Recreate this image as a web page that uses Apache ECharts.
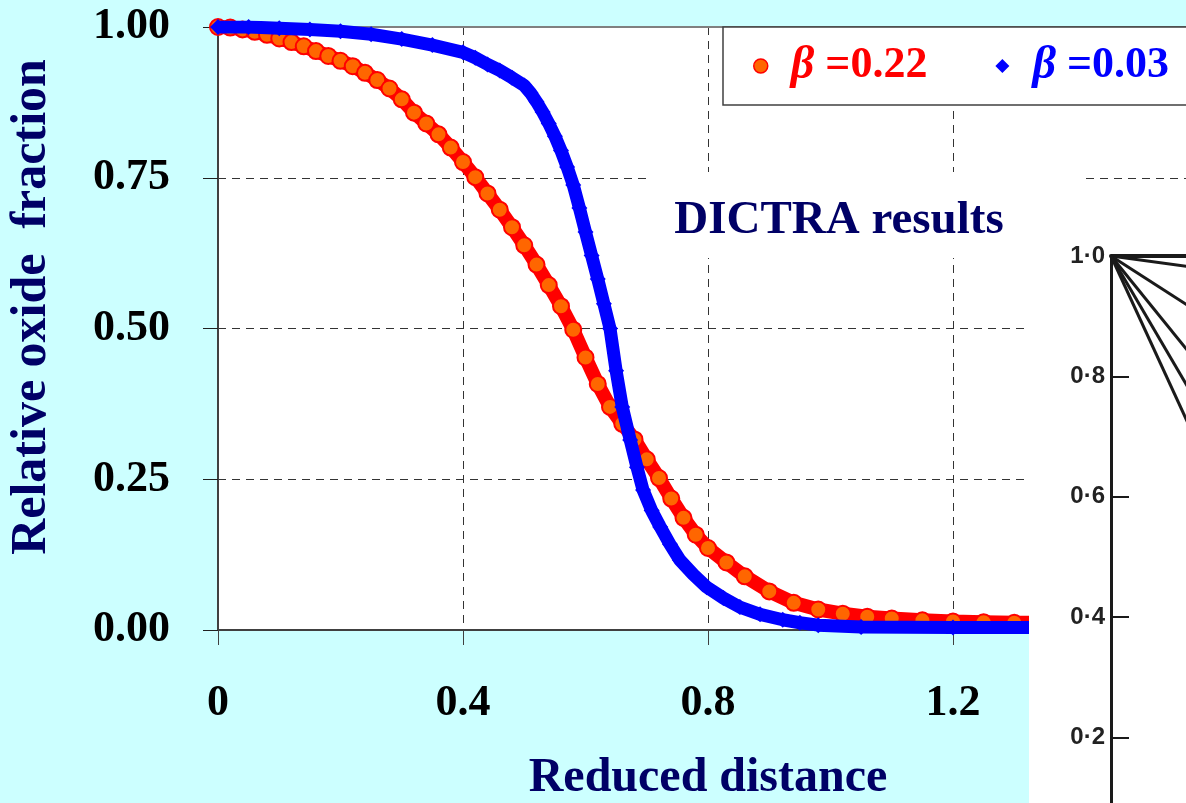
<!DOCTYPE html>
<html>
<head>
<meta charset="utf-8">
<script src="https://cdn.jsdelivr.net/npm/echarts@6/dist/echarts.min.js"></script>
<style>
html,body{margin:0;padding:0;background:#ccffff;}
#chart{width:1186px;height:803px;}
</style>
</head>
<body>
<div id="chart"></div>
<script>
// ---- Data ----
const xTickLabels = ['0', '0.4', '0.8', '1.2', '1.6'];
const yTickLabels = ['0.00', '0.25', '0.50', '0.75', '1.00'];

const redName = 'β =0.22';
const blueName = 'β =0.03';

const redX = [0.00,0.02,0.04,0.06,0.08,0.10,0.12,0.14,0.16,0.18,0.20,0.22,0.24,0.26,0.28,0.30,0.32,0.34,0.36,0.38,0.40,0.42,0.44,0.46,0.48,0.50,0.52,0.54,0.56,0.58,0.60,0.62,0.64,0.66,0.68,0.70,0.72,0.74,0.76,0.78,0.80,0.83,0.86,0.90,0.94,0.98,1.02,1.06,1.10,1.15,1.20,1.25,1.30,1.35,1.40,1.50,1.60];
const redY = [1.000,0.999,0.996,0.992,0.987,0.981,0.975,0.968,0.960,0.952,0.944,0.935,0.924,0.912,0.898,0.880,0.858,0.840,0.822,0.800,0.776,0.751,0.724,0.697,0.668,0.638,0.606,0.572,0.537,0.498,0.452,0.408,0.370,0.342,0.316,0.283,0.252,0.218,0.186,0.158,0.136,0.112,0.089,0.064,0.045,0.034,0.027,0.022,0.019,0.016,0.014,0.013,0.012,0.012,0.012,0.012,0.012];

const blueX = [0.00,0.05,0.10,0.15,0.20,0.25,0.30,0.35,0.40,0.42,0.44,0.46,0.48,0.50,0.51,0.52,0.53,0.54,0.55,0.56,0.57,0.58,0.59,0.60,0.61,0.62,0.63,0.64,0.65,0.66,0.673,0.684,0.694,0.708,0.722,0.738,0.754,0.776,0.798,0.825,0.852,0.885,0.922,0.95,0.98,1.05,1.20,1.40,1.60];
const blueY = [1.000,1.000,0.998,0.996,0.993,0.988,0.980,0.970,0.958,0.949,0.938,0.928,0.916,0.903,0.891,0.876,0.859,0.840,0.819,0.795,0.768,0.738,0.700,0.660,0.621,0.582,0.541,0.500,0.430,0.370,0.315,0.270,0.232,0.198,0.171,0.142,0.116,0.092,0.071,0.053,0.038,0.026,0.017,0.012,0.008,0.005,0.004,0.004,0.004];

// inset (scanned figure) y-axis labels and its radiating curves
const insetTickLabels = ['', '0·2', '0·4', '0·6', '0·8', '1·0'];
const insetX = [0, 0.14];
const insetCurveA = [1, 0.981];
const insetCurveB = [1, 0.910];
const insetCurveC = [1, 0.827];
const insetCurveD = [1, 0.761];
const insetCurveE = [1, 0.696];

// ---- Build ----
const zip = (xs, ys) => xs.map((x, i) => [x, ys[i]]);
const SERIF = 'Liberation Serif';
const NAVY = '#000066';

const chart = echarts.init(document.getElementById('chart'), null, {renderer: 'canvas'});

const insetSeries = [insetCurveA, insetCurveB, insetCurveC, insetCurveD, insetCurveE].map(ys => ({
  type: 'line', xAxisIndex: 2, yAxisIndex: 1, data: zip(insetX, ys),
  symbol: 'none', silent: true, z: 60,
  lineStyle: {color: '#1a1a1a', width: 3}
}));

const option = {
  backgroundColor: '#ccffff',
  animation: false,
  grid: [
    {left: 218, top: 27, width: 980, height: 603, outerBoundsMode: 'none', containLabel: false,
      show: true, backgroundColor: '#ffffff', borderColor: '#808080', borderWidth: 1},
    {left: 1111, top: 256, width: 602, height: 602, outerBoundsMode: 'none', containLabel: false}
  ],
  xAxis: [
    {
      type: 'value', gridIndex: 0, min: 0, max: 1.6, interval: 0.4,
      axisLine: {show: true, onZero: false, lineStyle: {color: '#404040', width: 2}},
      axisTick: {show: true, inside: false, length: 15, lineStyle: {color: '#404040', width: 1}},
      axisLabel: {
        margin: 52, color: '#000', fontFamily: SERIF, fontWeight: 'bold', fontSize: 44,
        formatter: v => xTickLabels[Math.round(v / 0.4)]
      },
      splitLine: {show: true, lineStyle: {color: '#333', width: 1, type: [8, 6]}},
      name: 'Reduced distance', nameLocation: 'middle', nameGap: 125,
      nameTextStyle: {color: NAVY, fontFamily: SERIF, fontWeight: 'bold', fontSize: 48}
    },
    {
      type: 'value', gridIndex: 0, position: 'top', min: 0, max: 1.6,
      axisLine: {show: true, onZero: false, lineStyle: {color: '#808080', width: 2}},
      axisTick: {show: false}, axisLabel: {show: false}, splitLine: {show: false}
    },
    {
      type: 'value', gridIndex: 1, position: 'top', min: 0, max: 1, z: 60,
      axisLine: {show: true, onZero: false, lineStyle: {color: '#1a1a1a', width: 4}},
      axisTick: {show: false}, axisLabel: {show: false}, splitLine: {show: false}
    }
  ],
  yAxis: [
    {
      type: 'value', gridIndex: 0, min: 0, max: 1, interval: 0.25,
      axisLine: {show: true, onZero: false, lineStyle: {color: '#404040', width: 2}},
      axisTick: {show: true, inside: false, length: 15, lineStyle: {color: '#202020', width: 1}},
      axisLabel: {
        margin: 48, color: '#000', fontFamily: SERIF, fontWeight: 'bold', fontSize: 44,
        formatter: v => yTickLabels[Math.round(v / 0.25)]
      },
      splitLine: {show: true, lineStyle: {color: '#333', width: 1, type: [8, 6]}}
    },
    {
      type: 'value', gridIndex: 1, min: 0, max: 1, interval: 0.2, z: 60,
      axisLine: {show: true, onZero: false, lineStyle: {color: '#1a1a1a', width: 3}},
      axisTick: {show: true, inside: true, length: 18, lineStyle: {color: '#1a1a1a', width: 2}},
      axisLabel: {
        margin: 6, color: '#222', fontFamily: 'Liberation Sans', fontWeight: 'bold', fontSize: 24,
        formatter: v => insetTickLabels[Math.round(v / 0.2)]
      },
      splitLine: {show: false}
    }
  ],
  legend: {
    left: 723, top: 27, width: 560,
    orient: 'horizontal',
    backgroundColor: '#ffffff', borderColor: '#404040', borderWidth: 1.5, borderRadius: 0,
    padding: [16, 60, 16, 30],
    itemGap: 68, itemWidth: 14, itemHeight: 14,
    data: [
      {name: redName, icon: 'circle', itemStyle: {color: '#ff6600', borderColor: '#ff0000', borderWidth: 1.5}},
      {name: blueName, icon: 'diamond', itemStyle: {color: '#0000ff', borderWidth: 0}}
    ],
    formatter: name => name === redName ? '{ra|β}{rb| =0.22}' : '{ba|β}{bb| =0.03}',
    textStyle: {
      fontFamily: SERIF, fontWeight: 'bold', fontSize: 44,
      rich: {
        ra: {color: '#ff0000', fontFamily: SERIF, fontStyle: 'italic', fontWeight: 'bold', fontSize: 46, padding: [0, 0, 0, 18]},
        rb: {color: '#ff0000', fontFamily: SERIF, fontWeight: 'bold', fontSize: 44},
        ba: {color: '#0000ff', fontFamily: SERIF, fontStyle: 'italic', fontWeight: 'bold', fontSize: 46, padding: [0, 0, 0, 18]},
        bb: {color: '#0000ff', fontFamily: SERIF, fontWeight: 'bold', fontSize: 44}
      }
    }
  },
  graphic: [
    {type: 'rect', z: 3, silent: true, shape: {x: 652, y: 172, width: 433, height: 86}, style: {fill: '#ffffff'}},
    {type: 'text', z: 4, silent: true, x: 839, y: 221,
      style: {text: 'DICTRA results', fill: NAVY, font: 'bold 47px "Liberation Serif"', textAlign: 'center', textVerticalAlign: 'middle'}},
    {type: 'text', z: 4, silent: true, x: 32, y: 307, rotation: Math.PI / 2,
      style: {text: 'Relative oxide  fraction', fill: NAVY, font: 'bold 50px "Liberation Serif"', textAlign: 'center', textVerticalAlign: 'middle'}},
    {type: 'rect', z: 50, silent: true, shape: {x: 1029, y: 232, width: 160, height: 575}, style: {fill: '#ffffff'}}
  ],
  series: [
    {
      name: redName, type: 'line', xAxisIndex: 0, yAxisIndex: 0,
      data: zip(redX, redY), showAllSymbol: true,
      symbol: 'circle', symbolSize: 16, z: 2,
      itemStyle: {color: '#ff6600', borderColor: '#ff0000', borderWidth: 2},
      lineStyle: {color: '#ff0000', width: 14}
    },
    {
      name: blueName, type: 'line', xAxisIndex: 0, yAxisIndex: 0,
      data: zip(blueX, blueY), showAllSymbol: true,
      symbol: 'diamond', symbolSize: 16, z: 3,
      itemStyle: {color: '#0000ff', borderWidth: 0},
      lineStyle: {color: '#0000ff', width: 13}
    }
  ].concat(insetSeries)
};

chart.setOption(option);
</script>
</body>
</html>
